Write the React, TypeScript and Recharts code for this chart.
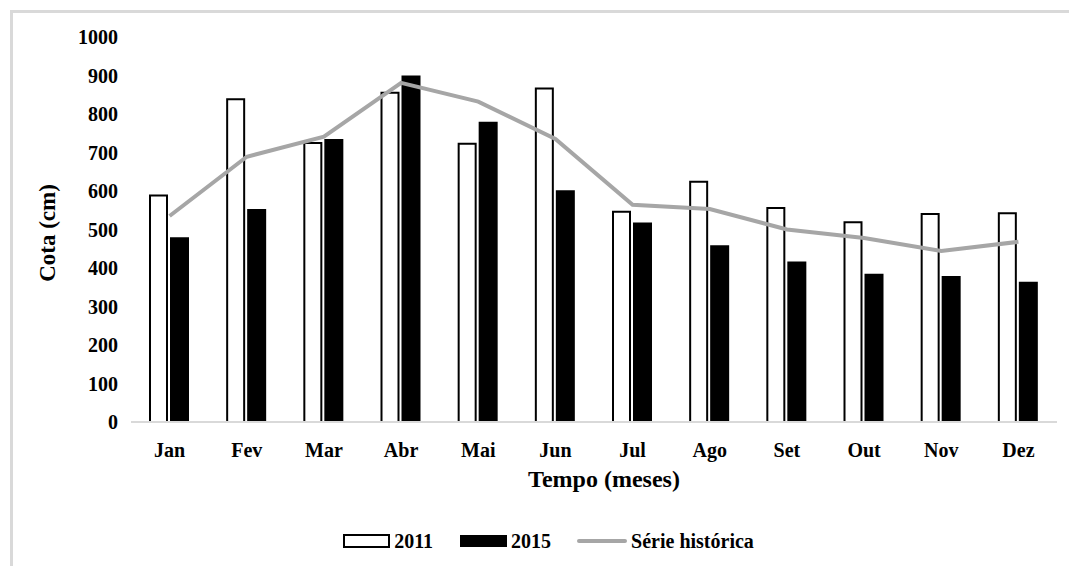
import React from 'react'
import { ComposedChart, Bar, Line, XAxis, YAxis, Legend, Label } from 'recharts'

/* Cota mensal: 2011, 2015 e série histórica */

const months = ['Jan', 'Fev', 'Mar', 'Abr', 'Mai', 'Jun', 'Jul', 'Ago', 'Set', 'Out', 'Nov', 'Dez']
const cota2011 = [588, 838, 725, 855, 723, 866, 546, 624, 556, 519, 540, 542]
const cota2015 = [480, 553, 735, 900, 780, 602, 518, 459, 417, 385, 379, 364]
const serieHistorica = [535, 689, 741, 881, 832, 735, 564, 553, 500, 478, 444, 468]
const yTicks = [0, 100, 200, 300, 400, 500, 600, 700, 800, 900, 1000]

const data = months.map((m, i) => ({
  mes: m,
  y2011: cota2011[i],
  y2015: cota2015[i],
  hist: serieHistorica[i],
}))

const FONT = '"Liberation Serif", "Times New Roman", serif'
const LINE_GRAY = '#a6a6a6'

const tickStyle = { fontFamily: FONT, fontWeight: 700, fontSize: 20, fill: '#000' }

function LegendBox() {
  const txt: React.CSSProperties = {
    fontFamily: FONT,
    fontWeight: 700,
    fontSize: 20,
    color: '#000',
    lineHeight: '30px',
  }
  return (
    <div
      style={{
        height: 30,
        display: 'flex',
        justifyContent: 'center',
        alignItems: 'center',
        paddingLeft: 40,
      }}
    >
      <div style={{ width: 43, height: 10, border: '2px solid #000', background: '#fff', marginRight: 4 }} />
      <span style={{ ...txt, marginRight: 27 }}>2011</span>
      <div style={{ width: 47, height: 12, background: '#000', marginRight: 4 }} />
      <span style={{ ...txt, marginRight: 26 }}>2015</span>
      <div style={{ width: 50, height: 4, background: LINE_GRAY, borderRadius: 2, marginRight: 4 }} />
      <span style={txt}>Série histórica</span>
    </div>
  )
}

function YTitle() {
  return (
    <text
      x={47}
      y={233}
      transform="rotate(-90, 47, 233)"
      textAnchor="middle"
      dominantBaseline="central"
      style={{ fontFamily: FONT, fontWeight: 700, fontSize: 23, fill: '#000' }}
    >
      Cota (cm)
    </text>
  )
}

export default function App() {
  return (
    <div style={{ position: 'absolute', left: 0, top: 0, width: 1069, height: 566, background: '#fff' }}>
      {/* moldura cinza (só topo e esquerda aparecem) */}
      <div
        style={{
          position: 'absolute',
          left: 10,
          top: 10,
          width: 1080,
          height: 580,
          borderTop: '3px solid #d9d9d9',
          borderLeft: '3px solid #d9d9d9',
          boxSizing: 'border-box',
        }}
      />
      <ComposedChart
        width={1069}
        height={566}
        data={data}
        margin={{ top: 37, right: 12, left: 0, bottom: 10 }}
        barGap={3}
        style={{ position: 'absolute', left: 0, top: 0 }}
      >
        <XAxis
          dataKey="mes"
          height={104}
          tickLine={false}
          tickSize={6}
          tickMargin={15}
          axisLine={{ stroke: '#d9d9d9', strokeWidth: 2 }}
          tick={tickStyle}
          interval={0}
        >
          <Label
            value="Tempo (meses)"
            position="insideBottom"
            offset={39}
            dx={10}
            style={{ fontFamily: FONT, fontWeight: 700, fontSize: 24, fill: '#000' }}
          />
        </XAxis>
        <YAxis
          width={131}
          domain={[0, 1000]}
          ticks={yTicks}
          interval={0}
          axisLine={false}
          tickLine={false}
          tickSize={6}
          tickMargin={7}
          tick={tickStyle}
        >
          <Label content={<YTitle />} />
        </YAxis>
        <Bar
          dataKey="y2011"
          name="2011"
          barSize={17}
          fill="#fff"
          stroke="#000"
          strokeWidth={2}
          isAnimationActive={false}
        />
        <Bar dataKey="y2015" name="2015" barSize={19} fill="#000" isAnimationActive={false} />
        <Line
          dataKey="hist"
          name="Série histórica"
          type="linear"
          stroke={LINE_GRAY}
          strokeWidth={4}
          dot={false}
          activeDot={false}
          isAnimationActive={false}
        />
        <Legend verticalAlign="bottom" height={30} content={<LegendBox />} />
      </ComposedChart>
    </div>
  )
}
